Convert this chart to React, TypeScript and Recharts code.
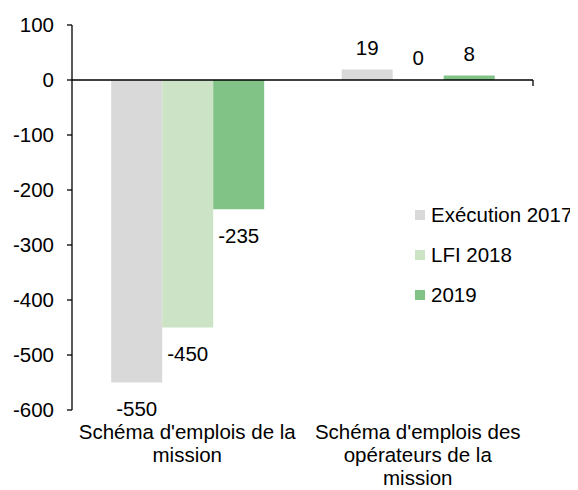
import React from "react";
import {
  BarChart,
  Bar,
  XAxis,
  YAxis,
  Legend,
  LabelList,
  ReferenceLine,
} from "recharts";

// categories (line breaks as drawn under the axis)
const categories = [
  "Schéma d'emplois de la\nmission",
  "Schéma d'emplois des\nopérateurs de la\nmission",
];
const seriesNames = ["Exécution 2017", "LFI 2018", "2019"];
const execution2017 = [-550, 19];
const lfi2018 = [-450, 0];
const budget2019 = [-235, 8];
const yTicks = [-600, -500, -400, -300, -200, -100, 0, 100];

const data = categories.map((name, i) => ({
  name,
  exec: execution2017[i],
  lfi: lfi2018[i],
  b2019: budget2019[i],
}));

const FONT = "'Liberation Sans', Arial, sans-serif";
const FS = 20.5;

const renderValue = (props: any) => {
  const { x, y, width, height, value } = props;
  const top = Math.min(y, y + height);
  const bottom = Math.max(y, y + height);
  const cy = value < 0 ? bottom + 26 : top - 22;
  return (
    <text
      x={x + width / 2}
      y={cy}
      textAnchor="middle"
      dominantBaseline="central"
      fontSize={FS}
      fill="#000"
    >
      {value}
    </text>
  );
};

const CategoryTick = (props: any) => {
  const { x, y, payload } = props;
  const lines = String(payload.value).split("\n");
  return (
    <text x={x} y={y} textAnchor="middle" fontSize={FS} fill="#000">
      {lines.map((l, i) => (
        <tspan key={i} x={x} dy={i === 0 ? 29 : 23}>
          {l}
        </tspan>
      ))}
    </text>
  );
};

const LegendBox = (props: any) => {
  const payload = [...(props.payload || [])].sort(
    (a: any, b: any) => seriesNames.indexOf(a.value) - seriesNames.indexOf(b.value)
  );
  return (
    <ul style={{ listStyle: "none", margin: 0, padding: 0 }}>
      {payload.map((p: any) => (
        <li
          key={p.value}
          style={{
            display: "flex",
            alignItems: "center",
            height: 40,
            fontSize: FS,
            color: "#000",
            whiteSpace: "nowrap",
          }}
        >
          <span
            style={{
              display: "inline-block",
              width: 10,
              height: 10,
              background: p.color,
              marginRight: 6,
            }}
          />
          {p.value}
        </li>
      ))}
    </ul>
  );
};

export default function App() {
  return (
    <div style={{ fontFamily: FONT }}>
      <BarChart
        width={570}
        height={482}
        data={data}
        margin={{ top: 17, right: 45, bottom: 0, left: 0 }}
        barCategoryGap="17%"
        barGap={0}
        style={{ fontFamily: FONT }}
      >
        <XAxis
          dataKey="name"
          axisLine={false}
          tickLine={false}
          tickSize={0}
          tickMargin={0}
          height={80}
          interval={0}
          tick={<CategoryTick />}
        />
        <XAxis xAxisId="n" type="number" domain={[0, 2]} hide allowDataOverflow />
        <YAxis
          domain={[-600, 100]}
          ticks={yTicks}
          width={64}
          tickSize={5}
          tickMargin={13}
          interval={0}
          axisLine={{ stroke: "#000", strokeWidth: 1.3 }}
          tickLine={{ stroke: "#000", strokeWidth: 1.3 }}
          tick={{ fill: "#000", fontSize: FS }}
        />
        <Legend
          layout="vertical"
          align="center"
          verticalAlign="middle"
          wrapperStyle={{ left: 407, top: 187, width: "auto" }}
          content={<LegendBox />}
        />
        <Bar dataKey="exec" name={seriesNames[0]} fill="#D9D9D9" isAnimationActive={false}>
          <LabelList dataKey="exec" content={renderValue} />
        </Bar>
        <Bar
          dataKey="lfi"
          name={seriesNames[1]}
          fill="#CCE4C5"
          minPointSize={0.01}
          isAnimationActive={false}
        >
          <LabelList dataKey="lfi" content={renderValue} />
        </Bar>
        <Bar dataKey="b2019" name={seriesNames[2]} fill="#81C387" isAnimationActive={false}>
          <LabelList dataKey="b2019" content={renderValue} />
        </Bar>
        <ReferenceLine y={0} stroke="#000" strokeWidth={1.3} />
        <ReferenceLine
          xAxisId="n"
          segment={[{ x: 1, y: 0 }, { x: 1, y: -11 }]}
          stroke="#000"
          strokeWidth={1.3}
        />
        <ReferenceLine
          xAxisId="n"
          segment={[{ x: 2, y: 0 }, { x: 2, y: -11 }]}
          stroke="#000"
          strokeWidth={1.3}
        />
      </BarChart>
    </div>
  );
}
